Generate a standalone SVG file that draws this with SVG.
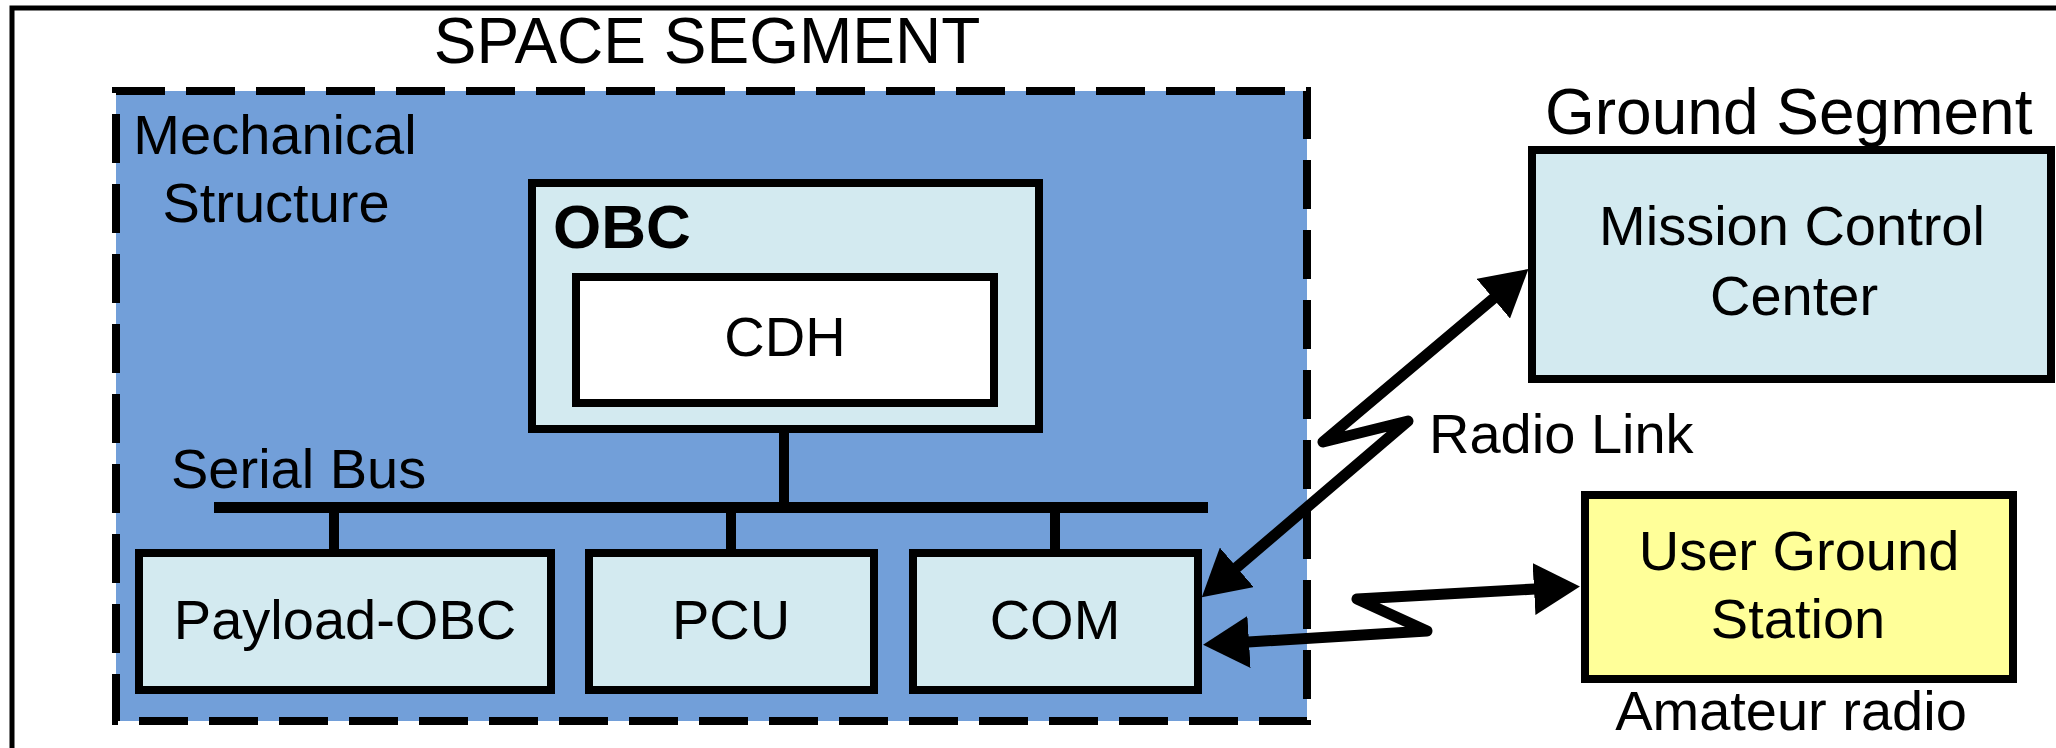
<svg xmlns="http://www.w3.org/2000/svg" width="2056" height="748" viewBox="0 0 2056 748">
<style>
.t{font-family:"Liberation Sans",Arial,sans-serif;font-size:56px;fill:#000}
.m{text-anchor:middle}
.box{fill:#D3EAF0;stroke:#000;stroke-width:8}
.wire{stroke:#000;stroke-width:10;fill:none}
.bolt{stroke:#000;stroke-width:11;fill:none;stroke-linejoin:round;stroke-linecap:butt;marker-start:url(#ah);marker-end:url(#ah)}
</style>
<defs>
<marker id="ah" viewBox="0 0 46 52" refX="1" refY="26" markerWidth="46" markerHeight="52" markerUnits="userSpaceOnUse" orient="auto-start-reverse">
<path d="M0,0 L46,26 L0,52 z" fill="#000"/>
</marker>
</defs>
<rect x="0" y="0" width="2056" height="748" fill="#fff"/>
<rect x="12" y="8" width="2060" height="760" fill="none" stroke="#000" stroke-width="5"/>
<text class="t m" x="707" y="63" style="font-size:64px">SPACE SEGMENT</text>

<g id="space-segment">
<rect x="116" y="91" width="1191" height="630" fill="#729FD9" stroke="#000" stroke-width="8" stroke-dasharray="49 21"/>
<text class="t m" x="275" y="154">Mechanical</text>
<text class="t m" x="276" y="222">Structure</text>
</g>

<g id="obc">
<rect class="box" x="532" y="183" width="507" height="246"/>
<text class="t" x="553" y="248" style="font-size:62px;font-weight:bold">OBC</text>
</g>
<g id="cdh">
<rect x="576" y="277" width="418" height="126" fill="#fff" stroke="#000" stroke-width="8"/>
<text class="t m" x="785" y="356">CDH</text>
</g>

<g id="connectors">
<line class="wire" x1="784" y1="433" x2="784" y2="503"/>
<rect x="214" y="502" width="994" height="11" fill="#000"/>
<line class="wire" x1="334" y1="513" x2="334" y2="550"/>
<line class="wire" x1="731" y1="513" x2="731" y2="550"/>
<line class="wire" x1="1055" y1="513" x2="1055" y2="550"/>
<polyline class="bolt" points="1236,568 1408,421 1323,442 1494,298"/>
<polyline class="bolt" points="1248,642 1427,631 1357,599 1535,589"/>
</g>

<text class="t" x="171" y="488">Serial Bus</text>

<g id="payload-obc">
<rect class="box" x="139" y="553" width="412" height="137"/>
<text class="t m" x="345" y="639">Payload-OBC</text>
</g>
<g id="pcu">
<rect class="box" x="589" y="553" width="285" height="137"/>
<text class="t m" x="731" y="639">PCU</text>
</g>
<g id="com">
<rect class="box" x="913" y="553" width="285" height="137"/>
<text class="t m" x="1055" y="639">COM</text>
</g>

<text class="t" x="1545" y="134" style="font-size:64px">Ground Segment</text>
<g id="mission-control">
<rect class="box" x="1532" y="150" width="519" height="229"/>
<text class="t m" x="1792" y="245">Mission Control</text>
<text class="t m" x="1794" y="315">Center</text>
</g>
<text class="t" x="1429" y="453">Radio Link</text>
<g id="user-ground-station">
<rect x="1585" y="495" width="428" height="184" fill="#FFFF99" stroke="#000" stroke-width="8"/>
<text class="t m" x="1799" y="570">User Ground</text>
<text class="t m" x="1798" y="638">Station</text>
</g>
<text class="t m" x="1791" y="730">Amateur radio</text>
</svg>
